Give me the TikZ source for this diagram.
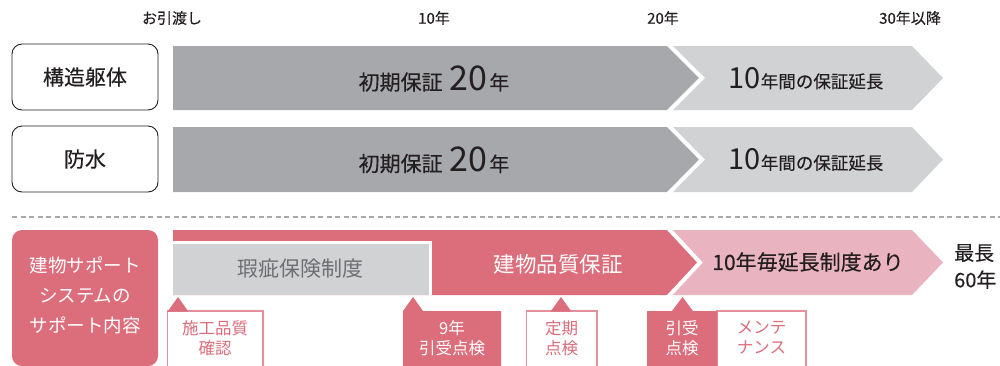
\documentclass[tikz,border=0pt]{standalone}
\usepackage{fontspec}
\setmainfont{Noto Sans CJK JP}
\newfontfamily\jpm{Noto Sans CJK JP}[FakeBold=0.35]
\definecolor{tdark}{HTML}{231F20}
\definecolor{gdark}{HTML}{A7A8AB}
\definecolor{glight}{HTML}{D1D2D4}
\definecolor{gtext}{HTML}{6D6E71}
\definecolor{pk}{HTML}{DC6D7B}
\definecolor{pklight}{HTML}{E9B4C0}
\definecolor{pkline}{HTML}{E4909C}
\definecolor{dashc}{HTML}{A7A9AC}
\tikzset{
  hdr/.style={font=\jpm\fontsize{15}{15}\selectfont, text=tdark, inner sep=0},
  catbox/.style={draw=tdark, line width=0.9pt, rounded corners=10pt, fill=white},
  cattext/.style={font=\jpm\fontsize{21}{21}\selectfont, text=tdark, inner sep=0},
  calltext/.style={font=\fontsize{16.5}{20}\selectfont, align=center, inner sep=0},
  whitecall/.style={fill=white, draw=pkline, line width=1.3pt},
  gap/.style={draw=white, line width=4pt},
}
\begin{document}
\begin{tikzpicture}[x=1pt,y=-1pt]
\useasboundingbox (0,0) rectangle (1000,365);

% header labels
\node[hdr] (h0) at (172,18) {お引渡し};
\node[hdr] (h10) at (434,18) {10年};
\node[hdr] (h20) at (663,18) {20年};
\node[hdr] (h30) at (910,18) {30年以降};

% row 1
\draw[catbox] (12,44) rectangle (158,110);
\node[cattext] (c1) at (85,77) {構造躯体};
\fill[glight] (670,46) -- (912,46) -- (943,78) -- (912,110) -- (670,110) -- (702,78) -- cycle;
\fill[gdark] (173,46) -- (670,46) -- (702,78) -- (670,110) -- (173,110) -- cycle;
\draw[gap] (667,43) -- (702,78) -- (667,113);
\node[anchor=base, inner sep=0, text=tdark] (r1a) at (434,90)
  {{\jpm\fontsize{21}{21}\selectfont 初期保証}\hspace{7pt}{\fontsize{34}{34}\selectfont 20}\hspace{2pt}{\jpm\fontsize{20}{20}\selectfont 年}};
\node[anchor=base, inner sep=0, text=tdark] (r1b) at (806,88)
  {{\fontsize{29}{29}\selectfont 10}{\jpm\fontsize{17.5}{17.5}\selectfont 年間の保証延長}};

% row 2
\draw[catbox] (12,126) rectangle (158,192);
\node[cattext] (c2) at (85,159) {防水};
\fill[glight] (670,127) -- (912,127) -- (943,159.5) -- (912,192) -- (670,192) -- (702,159.5) -- cycle;
\fill[gdark] (173,127) -- (670,127) -- (702,159.5) -- (670,192) -- (173,192) -- cycle;
\draw[gap] (667,124) -- (702,159.5) -- (667,195);
\node[anchor=base, inner sep=0, text=tdark] (r2a) at (434,171.5)
  {{\jpm\fontsize{21}{21}\selectfont 初期保証}\hspace{7pt}{\fontsize{34}{34}\selectfont 20}\hspace{2pt}{\jpm\fontsize{20}{20}\selectfont 年}};
\node[anchor=base, inner sep=0, text=tdark] (r2b) at (806,169.5)
  {{\fontsize{29}{29}\selectfont 10}{\jpm\fontsize{17.5}{17.5}\selectfont 年間の保証延長}};

% dashed separator
\coordinate (d1) at (12,217);
\coordinate (d2) at (1000,217);
\draw[dashc, line width=1.3pt, dash pattern=on 5pt off 3.5pt] (d1) -- (d2);

% support system box
\fill[pk, rounded corners=10pt] (12,230) rectangle (158,366);
\node[font=\fontsize{18.5}{30}\selectfont, text=white, align=center, inner sep=0] (sys) at (85,295)
  {建物サポート\\システムの\\サポート内容};

% bottom arrows
\fill[pklight] (670,230) -- (912,230) -- (943,262.5) -- (912,295) -- (670,295) -- (700,262.5) -- cycle;
\fill[pk] (173,230) -- (670,230) -- (700,262.5) -- (670,295) -- (173,295) -- cycle;
\draw[gap] (667,227) -- (700,262.5) -- (667,298);
\fill[white] (173,240.5) rectangle (431.5,295);
\fill[glight] (173,243.5) rectangle (428.5,295);
\node[font=\fontsize{21}{21}\selectfont, text=gtext, inner sep=0] (kashi) at (300.5,269) {瑕疵保険制度};
\node[font=\fontsize{21.5}{21.5}\selectfont, text=white, inner sep=0] (hinshitsu) at (558,264) {建物品質保証};
\node[font=\jpm\fontsize{21}{21}\selectfont, text=tdark, inner sep=0] (ext) at (808,262) {10年毎延長制度あり};
\node[font=\jpm\fontsize{20}{27}\selectfont, text=tdark, align=left, inner sep=0, anchor=west] (max) at (954,266.5) {最長\\60年};

% callout 1
\draw[whitecall] (167.5,311) rectangle (263,368);
\fill[pk] (167.5,311.7) -- (178,297) -- (188.5,311.7) -- cycle;
\node[calltext, text=pk] (k1) at (215,338) {施工品質\\確認};

% callout 2
\fill[pk] (403,311) -- (413,297) -- (423,311) -- (501,311) -- (501,368) -- (403,368) -- cycle;
\node[calltext, text=white] (k2) at (452,338) {9年\\引受点検};

% callout 3
\draw[whitecall] (526.5,311) rectangle (597,368);
\fill[pk] (550.5,311.7) -- (561,297) -- (571.5,311.7) -- cycle;
\node[calltext, text=pk] (k3) at (561.5,338) {定期\\点検};

% callout 4
\draw[whitecall] (717,311) rectangle (806,368);
\fill[pk] (647,311) -- (672,311) -- (682.5,297) -- (693,311) -- (717,311) -- (717,368) -- (647,368) -- cycle;
\node[calltext, text=white] (k4) at (682,338) {引受\\点検};
\node[calltext, text=pk] (k5) at (761.5,338) {メンテ\\ナンス};
\end{tikzpicture}
\end{document}
